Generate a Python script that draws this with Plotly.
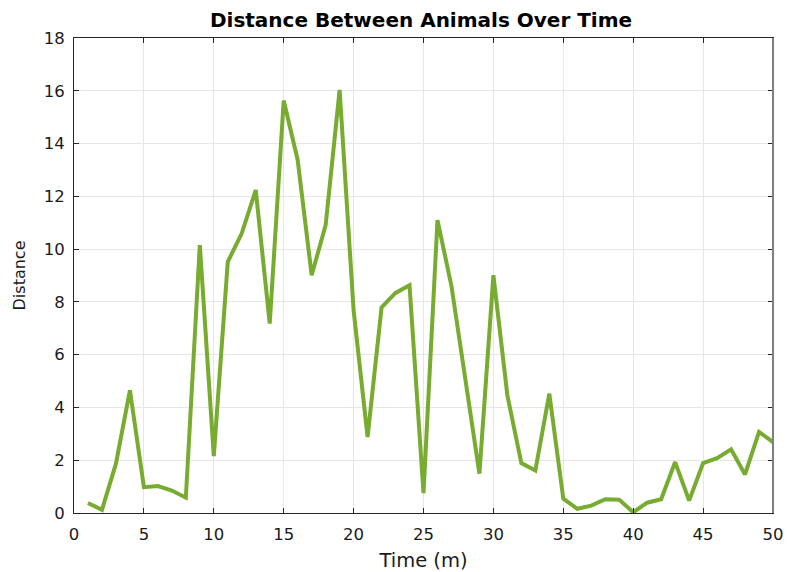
import plotly.graph_objects as go

time_m = list(range(1, 51))
distance = [0.38, 0.12, 1.87, 4.65, 0.98, 1.02, 0.85, 0.58, 10.15, 2.16,
            9.52, 10.6, 12.24, 7.18, 15.63, 13.38, 9.01, 10.91, 16.03, 7.68,
            2.88, 7.79, 8.34, 8.63, 0.75, 11.1, 8.6, 5.1, 1.49, 9.01,
            4.46, 1.89, 1.61, 4.52, 0.54, 0.16, 0.28, 0.52, 0.5, 0.03,
            0.39, 0.52, 1.93, 0.47, 1.89, 2.08, 2.41, 1.46, 3.07, 2.69]
x_ticks = [0, 5, 10, 15, 20, 25, 30, 35, 40, 45, 50]
y_ticks = [0, 2, 4, 6, 8, 10, 12, 14, 16, 18]

W, H = 787, 572
fig = go.Figure()
fig.add_trace(go.Scatter(x=time_m, y=distance, mode="lines",
                         line=dict(color="#77AC30", width=4),
                         showlegend=False))

axis_common = dict(
    showline=True, linecolor="#262626", linewidth=1,
    mirror="allticks", ticks="inside", ticklen=5, tickcolor="#262626",
    showgrid=True, gridcolor="#e6e6e6", gridwidth=1, zeroline=False,
    automargin=False,
    tickfont=dict(family="DejaVu Sans", size=16.5, color="#1a1a1a"),
)

fig.update_layout(
    width=W, height=H,
    margin=dict(l=74, r=14, t=38, b=59),
    paper_bgcolor="white", plot_bgcolor="white",
    title=dict(text="<b>Distance Between Animals Over Time</b>",
               x=0.535, xanchor="center", y=1 - 20 / H, yanchor="middle",
               font=dict(family="DejaVu Sans", size=20, color="black")),
    xaxis=dict(range=[0, 50], tickvals=x_ticks, ticklabelstandoff=6, **axis_common,
               title=dict(text="Time (m)", standoff=12,
                          font=dict(family="DejaVu Sans", size=19.5, color="#1a1a1a"))),
    yaxis=dict(range=[0, 18], tickvals=y_ticks, ticklabelstandoff=5, **axis_common,
               title=dict(text="Distance", standoff=14,
                          font=dict(family="DejaVu Sans", size=16, color="#1a1a1a"))),
)

# right border drawn slightly heavier grey as in the reference
fig.add_shape(type="line", xref="paper", yref="paper", x0=1, x1=1, y0=0, y1=1,
              line=dict(color="#7f7f7f", width=2))

fig.write_html("out.html")
